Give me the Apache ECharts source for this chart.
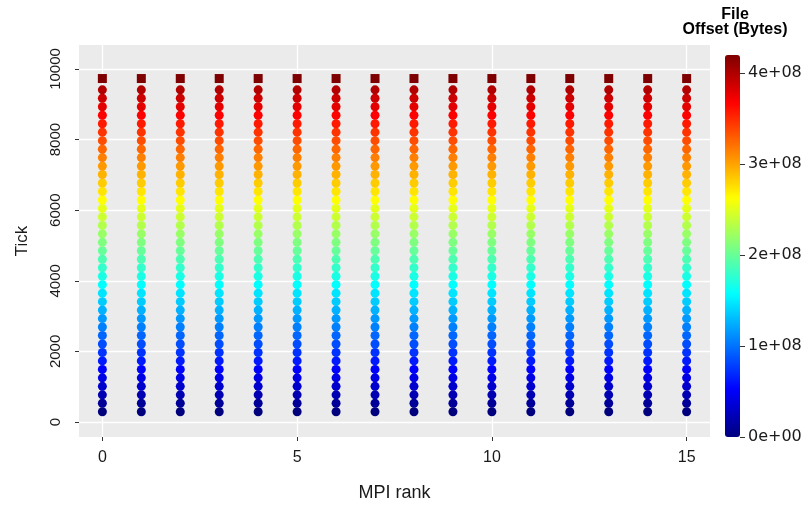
<!DOCTYPE html>
<html>
<head>
<meta charset="utf-8">
<script src="https://cdn.jsdelivr.net/npm/echarts@6/dist/echarts.min.js"></script>
<style>
  html, body { margin: 0; padding: 0; background: #ffffff; }
  #main { width: 811px; height: 505px; }
</style>
</head>
<body>
<div id="main"></div>
<script>
// MPI ranks on the x axis
var ranks = [0, 1, 2, 3, 4, 5, 6, 7, 8, 9, 10, 11, 12, 13, 14, 15];

// tick of each write (same for every rank)
var ticks = [290, 530, 770, 1010, 1250, 1490, 1730, 1970, 2210, 2450,
  2690, 2930, 3170, 3410, 3650, 3890, 4130, 4370, 4610, 4850,
  5090, 5330, 5570, 5810, 6050, 6290, 6530, 6770, 7010, 7250,
  7490, 7730, 7970, 8210, 8450, 8690, 8930, 9170, 9410];

// file offset of each write, in MB (1e6 bytes)
var offsetsMB = [0, 10.5, 21, 31.5, 42, 52.5, 63, 73.5, 84, 94.5,
  105, 115.5, 126, 136.5, 147, 157.5, 168, 178.5, 189, 199.5,
  210, 220.5, 231, 241.5, 252, 262.5, 273, 283.5, 294, 304.5,
  315, 325.5, 336, 346.5, 357, 367.5, 378, 388.5, 399];

// last event per rank (square marker)
var lastTick = 9730;
var lastOffsetMB = 420;

var yTicks = [0, 2000, 4000, 6000, 8000, 10000];
var xTicks = [0, 5, 10, 15];
var barTicks = [0, 1e8, 2e8, 3e8, 4e8];

var jet = ['#00007F', '#0000FF', '#007FFF', '#00FFFF', '#7FFF7F', '#FFFF00', '#FF7F00', '#FF0000', '#7F0000'];

var pts = [];
var last = [];
ranks.forEach(function (r) {
  ticks.forEach(function (t, i) {
    pts.push([r, t, offsetsMB[i] * 1e6]);
  });
  last.push([r, lastTick, lastOffsetMB * 1e6]);
});

var font = 'Liberation Sans, Arial, sans-serif';
var wide = 'DejaVu Sans, sans-serif';
var chart = echarts.init(document.getElementById('main'), null, { renderer: 'canvas' });

var option = {
  backgroundColor: '#ffffff',
  animation: false,
  textStyle: { fontFamily: font },
  title: {
    text: 'File\nOffset (Bytes)',
    left: 730,
    top: 2,
    textAlign: 'center',
    textStyle: { fontSize: 16, fontWeight: 'bold', color: '#000', lineHeight: 15, fontFamily: font }
  },
  grid: [
    { left: 79, right: 101, top: 45, bottom: 68, show: true, backgroundColor: '#EBEBEB', borderWidth: 0, outerBoundsMode: 'none', containLabel: false },
    { left: 725, width: 15, top: 55, bottom: 68, show: false, outerBoundsMode: 'none', containLabel: false }
  ],
  xAxis: [{
    type: 'value',
    gridIndex: 0,
    min: -0.6,
    max: 15.6,
    name: 'MPI rank',
    nameLocation: 'middle',
    nameGap: 47,
    nameTextStyle: { fontSize: 18, color: '#1a1a1a', fontFamily: font },
    axisLine: { show: false, onZero: false },
    axisTick: { show: true, length: 4, lineStyle: { color: '#333' }, customValues: xTicks },
    axisLabel: { fontSize: 16, color: '#1a1a1a', margin: 13, customValues: xTicks, fontFamily: font },
    splitLine: { show: true, lineStyle: { color: '#ffffff', width: 1.3 } }
  }, {
    type: 'value', gridIndex: 1, show: false, min: 0, max: 1
  }],
  yAxis: [{
    type: 'value',
    gridIndex: 0,
    min: -425,
    max: 10680,
    name: 'Tick',
    nameLocation: 'middle',
    nameRotate: 90,
    nameGap: 48,
    nameTextStyle: { fontSize: 17, color: '#1a1a1a', fontFamily: font },
    axisLine: { show: false, onZero: false },
    axisTick: { show: true, length: 4, lineStyle: { color: '#333' }, customValues: yTicks },
    axisLabel: {
      fontSize: 15, color: '#1a1a1a', rotate: 90, margin: 16, customValues: yTicks, fontFamily: font,
      formatter: function (v) { return String(v); }
    },
    splitLine: { show: true, lineStyle: { color: '#ffffff', width: 1.3 } }
  }, {
    type: 'value',
    gridIndex: 1,
    position: 'right',
    min: 0,
    max: 4.2e8,
    axisLine: { show: false, onZero: false },
    axisTick: { show: true, length: 5, lineStyle: { color: '#333' }, customValues: barTicks },
    axisLabel: {
      fontSize: 16, color: '#1a1a1a', margin: 8, customValues: barTicks, fontFamily: wide,
      formatter: function (v) { return v === 0 ? '0e+00' : (v / 1e8) + 'e+08'; }
    },
    splitLine: { show: false }
  }],
  visualMap: {
    type: 'continuous',
    min: 0,
    max: 4.2e8,
    dimension: 2,
    seriesIndex: [0, 1],
    left: 725,
    top: 55,
    itemWidth: 15,
    itemHeight: 382,
    padding: 0,
    calculable: false,
    hoverLink: false,
    inRange: { color: jet }
  },
  series: [{
    type: 'scatter',
    xAxisIndex: 0,
    yAxisIndex: 0,
    symbol: 'circle',
    symbolSize: 9,
    itemStyle: { opacity: 1 },
    data: pts
  }, {
    type: 'scatter',
    xAxisIndex: 0,
    yAxisIndex: 0,
    symbol: 'rect',
    symbolSize: 9,
    itemStyle: { opacity: 1 },
    data: last
  }]
};

chart.setOption(option);
</script>
</body>
</html>
